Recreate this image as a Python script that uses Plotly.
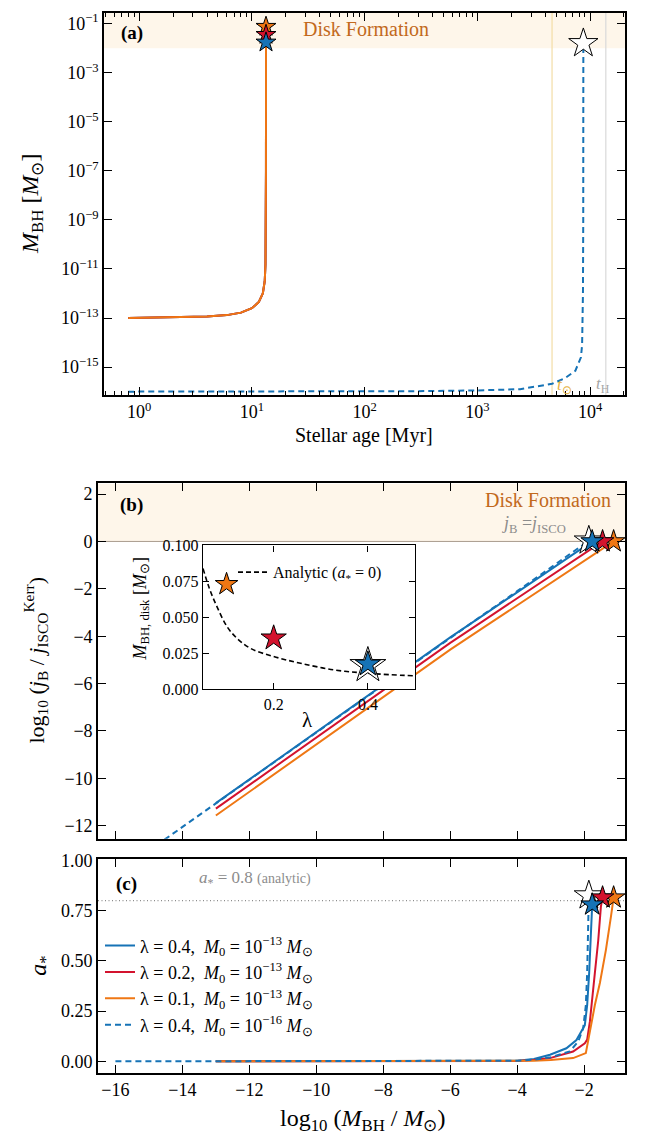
import plotly.graph_objects as go

W, H = 649, 1143
FONT = "Liberation Serif, Times New Roman, Times, serif"

# ---------------- data ----------------
# Panel (a): BH mass vs stellar age
age_m13 = [0.8, 2, 4, 6, 8, 10, 11.5, 12.5, 13.0, 13.2, 13.3, 13.33, 13.34]
logm_m13 = [-13.0, -12.98, -12.94, -12.88, -12.78, -12.6, -12.35, -12.0, -11.5, -10.8, -9.5, -7.0]
age_m16 = [0.8, 10, 100, 300, 1000, 2400, 4600, 6000, 7400, 8300, 8500, 8650, 8700, 8720]
logm_m16 = [-16.0, -16.0, -15.99, -15.98, -15.95, -15.9, -15.68, -15.45, -15.15, -14.6, -14.1, -12.0, -9.0, -1.8]
t_sun, t_hubble = 4600, 13800
disk_mass_lo = 0.01

# Disk-formation masses (end points)
lam = [0.4, 0.2, 0.1]
logm_disk = [-1.76, -1.45, -1.12]
logm_disk_m16 = -1.86

# Panel (b): log10 j_B / j_ISCO vs log10 M_BH
b_x_blue = [-13, -10, -8, -6, -5, -4, -3, -2, -1.76]
b_y_blue = [-11.05, -8.05, -6.05, -4.05, -3.1, -2.14, -1.18, -0.23, 0.0]
b_x_red = [-13, -10, -8, -6, -5, -4, -3, -2, -1.45]
b_y_red = [-11.28, -8.28, -6.28, -4.28, -3.34, -2.4, -1.46, -0.52, 0.0]
b_x_orange = [-13, -10, -8, -6, -5, -4, -3, -2, -1.12]
b_y_orange = [-11.57, -8.57, -6.57, -4.57, -3.63, -2.7, -1.76, -0.82, 0.0]
b_x_dash = [-16, -13, -10, -8, -6, -5, -4, -3, -2.2, -1.86]
b_y_dash = [-14.05, -11.05, -8.05, -6.05, -4.05, -3.08, -2.1, -1.12, -0.33, 0.03]
b_star_y = [0.0, 0.0, 0.0]
b_star_y_m16 = 0.03

# Panel (c): spin a* vs log10 M_BH
c_x_blue = [-13, -8, -5, -4, -3.5, -3.02, -2.53, -2.23, -1.98, -1.91, -1.85, -1.81, -1.76]
c_y_blue = [0, 0, 0.0005, 0.003, 0.012, 0.033, 0.065, 0.106, 0.18, 0.28, 0.44, 0.6, 0.78]
c_x_red = [-13, -8, -5, -4, -3.5, -3.02, -2.33, -1.98, -1.91, -1.83, -1.68, -1.58, -1.50, -1.45]
c_y_red = [0, 0, 0.0005, 0.002, 0.007, 0.016, 0.049, 0.09, 0.108, 0.196, 0.44, 0.6, 0.77, 0.815]
c_x_orange = [-13, -8, -5, -4, -3.5, -3.0, -2.33, -1.95, -1.83, -1.68, -1.53, -1.35, -1.2, -1.12]
c_y_orange = [0, 0, 0.0003, 0.0015, 0.003, 0.006, 0.016, 0.041, 0.147, 0.28, 0.39, 0.555, 0.72, 0.815]
c_x_dash = [-16, -8, -5, -4, -3.5, -3.0, -2.43, -2.18, -2.03, -1.95, -1.91, -1.88, -1.87, -1.86]
c_y_dash = [0, 0, 0.0005, 0.003, 0.008, 0.02, 0.049, 0.098, 0.163, 0.278, 0.44, 0.6, 0.77, 0.825]
c_star_a = [0.78, 0.815, 0.815]
c_star_a_m16 = 0.825
a_analytic = 0.8

# Inset: disk-formation mass vs lambda
ins_lam = [0.4, 0.2, 0.1]
ins_mdisk = [0.0174, 0.0355, 0.073]
ins_mdisk_m16 = 0.0165
an_lam = [0.05, 0.0636, 0.0796, 0.101, 0.122, 0.151, 0.2, 0.257, 0.328, 0.4, 0.5]
an_m = [0.084, 0.070, 0.0574, 0.0435, 0.0354, 0.0283, 0.0227, 0.018, 0.0134, 0.011, 0.0092]

labels = ["λ = 0.4,  <i>M</i><sub>0</sub> = 10<sup>−13</sup> <i>M</i><sub>⊙</sub>",
          "λ = 0.2,  <i>M</i><sub>0</sub> = 10<sup>−13</sup> <i>M</i><sub>⊙</sub>",
          "λ = 0.1,  <i>M</i><sub>0</sub> = 10<sup>−13</sup> <i>M</i><sub>⊙</sub>"]
label_dash = "λ = 0.4,  <i>M</i><sub>0</sub> = 10<sup>−16</sup> <i>M</i><sub>⊙</sub>"

BLUE, RED, ORANGE = "#1673B6", "#D3132E", "#EF7714"
colors = [BLUE, RED, ORANGE]
BAND = "#FEF6EA"
DF_COLOR = "#C2691C"

fig = go.Figure()

# ---------------- panel (a) ----------------
for i, c in enumerate(colors):
    ys = [10 ** v for v in logm_m13] + [10 ** logm_disk[i]]
    fig.add_trace(go.Scatter(x=age_m13, y=ys, mode="lines", line=dict(color=c, width=2),
                             xaxis="x", yaxis="y", showlegend=False))
fig.add_trace(go.Scatter(x=age_m16, y=[10 ** v for v in logm_m16], mode="lines",
                         line=dict(color=BLUE, width=2, dash="6px,4px"),
                         xaxis="x", yaxis="y", showlegend=False))
fig.add_trace(go.Scatter(x=[age_m16[-1]], y=[10 ** logm_m16[-1]], mode="markers",
                         marker=dict(symbol="star", size=22, color="white", line=dict(color="black", width=1)),
                         xaxis="x", yaxis="y", showlegend=False))
for i in [2, 1, 0]:
    fig.add_trace(go.Scatter(x=[age_m13[-1]], y=[10 ** logm_disk[i]], mode="markers",
                             marker=dict(symbol="star", size=15, color=colors[i], line=dict(color="black", width=1)),
                             xaxis="x", yaxis="y", showlegend=False))

# ---------------- panel (b) ----------------
for xs, ys, c in [(b_x_blue, b_y_blue, BLUE), (b_x_red, b_y_red, RED), (b_x_orange, b_y_orange, ORANGE)]:
    fig.add_trace(go.Scatter(x=xs, y=ys, mode="lines", line=dict(color=c, width=2),
                             xaxis="x2", yaxis="y2", showlegend=False))
fig.add_trace(go.Scatter(x=b_x_dash, y=b_y_dash, mode="lines", line=dict(color=BLUE, width=2, dash="6px,4px"),
                         xaxis="x2", yaxis="y2", showlegend=False))
fig.add_trace(go.Scatter(x=[logm_disk_m16], y=[b_star_y_m16], mode="markers",
                         marker=dict(symbol="star", size=22, color="white", line=dict(color="black", width=1)),
                         xaxis="x2", yaxis="y2", showlegend=False))
for i in [2, 1, 0]:
    fig.add_trace(go.Scatter(x=[logm_disk[i]], y=[b_star_y[i]], mode="markers",
                             marker=dict(symbol="star", size=17, color=colors[i], line=dict(color="black", width=1)),
                             xaxis="x2", yaxis="y2", showlegend=False))

# ---------------- panel (c) ----------------
for xs, ys, c, lab in [(c_x_blue, c_y_blue, BLUE, labels[0]), (c_x_red, c_y_red, RED, labels[1]),
                       (c_x_orange, c_y_orange, ORANGE, labels[2])]:
    fig.add_trace(go.Scatter(x=xs, y=ys, mode="lines", line=dict(color=c, width=2), name=lab,
                             xaxis="x3", yaxis="y3", showlegend=True, legend="legend"))
fig.add_trace(go.Scatter(x=c_x_dash, y=c_y_dash, mode="lines", line=dict(color=BLUE, width=2, dash="6px,4px"),
                         name=label_dash, xaxis="x3", yaxis="y3", showlegend=True, legend="legend"))
fig.add_trace(go.Scatter(x=[logm_disk_m16], y=[c_star_a_m16], mode="markers",
                         marker=dict(symbol="star", size=22, color="white", line=dict(color="black", width=1)),
                         xaxis="x3", yaxis="y3", showlegend=False))
for i in [2, 1, 0]:
    fig.add_trace(go.Scatter(x=[logm_disk[i]], y=[c_star_a[i]], mode="markers",
                             marker=dict(symbol="star", size=17, color=colors[i], line=dict(color="black", width=1)),
                             xaxis="x3", yaxis="y3", showlegend=False))

# ---------------- inset ----------------
fig.add_trace(go.Scatter(x=an_lam, y=an_m, mode="lines", line=dict(color="black", width=1.6, dash="5px,3px", shape="spline"),
                         name="Analytic (<i>a</i><sub>*</sub> = 0)", xaxis="x4", yaxis="y4",
                         showlegend=True, legend="legend2"))
fig.add_trace(go.Scatter(x=[ins_lam[0]], y=[ins_mdisk_m16], mode="markers",
                         marker=dict(symbol="star", size=27, color="white", line=dict(color="black", width=1)),
                         xaxis="x4", yaxis="y4", showlegend=False))
for i, sz in zip([2, 1, 0], [17, 19, 19]):
    fig.add_trace(go.Scatter(x=[ins_lam[i]], y=[ins_mdisk[i]], mode="markers",
                             marker=dict(symbol="star", size=sz, color=colors[i], line=dict(color="black", width=1)),
                             xaxis="x4", yaxis="y4", showlegend=False))

# ---------------- axes ----------------
def px_x(a, b):
    return [a / W, b / W]

def px_y(top, bottom):
    return [1 - bottom / H, 1 - top / H]

ax_common = dict(showline=True, linecolor="black", linewidth=1.6, mirror="allticks", ticks="inside",
                 ticklen=8, tickwidth=1.2, tickcolor="black", showgrid=False, zeroline=False,
                 tickfont=dict(family=FONT, size=18, color="black"))

minor_vals = []
for e in [-1, 0, 1, 2, 3, 4]:
    for m in range(2, 10):
        minor_vals.append(m * 10 ** e)

fig.update_layout(
    xaxis=dict(ax_common, domain=px_x(104, 625), anchor="y", type="log", range=[-0.312, 4.31],
               tickmode="array", tickvals=[1, 10, 100, 1000, 10000],
               ticktext=["10<sup>0</sup>", "10<sup>1</sup>", "10<sup>2</sup>", "10<sup>3</sup>", "10<sup>4</sup>"],
               minor=dict(tickmode="array", tickvals=minor_vals, ticks="inside", ticklen=4, tickwidth=1, tickcolor="black")),
    yaxis=dict(ax_common, domain=px_y(4, 392), anchor="x", type="log", range=[-16.13, -0.56],
               tickmode="array", tickvals=[10 ** (-k) for k in range(1, 16, 2)],
               ticktext=["10<sup>−%d</sup>" % k for k in range(1, 16, 2)]),
    xaxis2=dict(ax_common, domain=px_x(98, 625), anchor="y2", range=[-16.52, -0.78],
                tickmode="array", tickvals=list(range(-16, 0, 2)), showticklabels=False),
    yaxis2=dict(ax_common, domain=px_y(482, 843), anchor="x2", range=[-12.55, 2.45],
                tickmode="array", tickvals=list(range(-12, 3, 2))),
    xaxis3=dict(ax_common, domain=px_x(98, 625), anchor="y3", range=[-16.52, -0.78],
                tickmode="array", tickvals=list(range(-16, 0, 2))),
    yaxis3=dict(ax_common, domain=px_y(864, 1081), anchor="x3", range=[-0.058, 1.005],
                tickmode="array", tickvals=[0, 0.25, 0.5, 0.75, 1.0],
                ticktext=["0.00", "0.25", "0.50", "0.75", "1.00"]),
    xaxis4=dict(ax_common, domain=px_x(203, 415), anchor="y4", range=[0.05, 0.5],
                tickmode="array", tickvals=[0.2, 0.4], ticklen=6, linewidth=1.4,
                tickfont=dict(family=FONT, size=16, color="black")),
    yaxis4=dict(ax_common, domain=px_y(545, 691), anchor="x4", range=[0, 0.1],
                tickmode="array", tickvals=[0, 0.025, 0.05, 0.075, 0.1], ticklen=6, linewidth=1.4,
                ticktext=["0.000", "0.025", "0.050", "0.075", "0.100"],
                tickfont=dict(family=FONT, size=16, color="black")),
)

# ---------------- shapes ----------------
shapes = [
    dict(type="rect", xref="x domain", yref="y", x0=0, x1=1, y0=disk_mass_lo, y1=10 ** -0.56,
         fillcolor=BAND, line=dict(width=0), layer="below"),
    dict(type="line", xref="x", yref="y domain", x0=t_sun, x1=t_sun, y0=0, y1=1,
         line=dict(color="#F3DDA6", width=1.2), layer="below"),
    dict(type="line", xref="x", yref="y domain", x0=t_hubble, x1=t_hubble, y0=0, y1=1,
         line=dict(color="#D9D9D9", width=1.2), layer="below"),
    dict(type="rect", xref="x2 domain", yref="y2", x0=0, x1=1, y0=0, y1=2.45,
         fillcolor=BAND, line=dict(width=0), layer="below"),
    dict(type="line", xref="x2 domain", yref="y2", x0=0, x1=1, y0=0, y1=0,
         line=dict(color="#A99C8E", width=1), layer="below"),
    dict(type="line", xref="x3 domain", yref="y3", x0=0, x1=1, y0=a_analytic, y1=a_analytic,
         line=dict(color="#8C8C8C", width=1.1, dash="1px,2.5px"), layer="below"),
]
fig.update_layout(shapes=shapes)

# ---------------- annotations ----------------
def ann(text, x, y, size=18, color="black", angle=0, xanchor="center", yanchor="middle"):
    return dict(text=text, x=x / W, y=1 - y / H, xref="paper", yref="paper", showarrow=False,
                font=dict(family=FONT, size=size, color=color), textangle=angle,
                xanchor=xanchor, yanchor=yanchor)

anns = [
    ann("<b>(a)</b>", 132, 24, 19),
    ann("Disk Formation", 366, 20, 20, DF_COLOR),
    ann("<i>t</i><sub>⊙</sub>", 564, 383, 17, "#E6B13E"),
    ann("<i>t</i><sub>H</sub>", 603, 382, 17, "#A6A6A6"),
    ann("<i>M</i><sub>BH</sub> [<i>M</i><sub>⊙</sub>]", 32, 198, 24, angle=-90),
    ann("Stellar age [Myr]", 364, 433, 20),
    ann("<b>(b)</b>", 131, 504, 19),
    ann("Disk Formation", 548, 499, 20, DF_COLOR),
    ann("<i>j</i><sub>B</sub> =<i>j</i><sub>ISCO</sub>", 534, 524, 18, "#8C8C8C"),
    ann("log<sub>10</sub> (<i>j</i><sub>B</sub> / <i>j</i><sub>ISCO</sub><sup>Kerr</sup>)", 36, 662, 22, angle=-90),
    ann("<i>M</i><sub>BH, disk</sub> [<i>M</i><sub>⊙</sub>]", 141, 610, 18, angle=-90),
    ann("λ", 307, 722, 21),
    ann("<b>(c)</b>", 126, 889, 19),
    ann("<i>a</i><sub>*</sub> = 0.8 <span style='font-size:14px'>(analytic)</span>", 255, 884, 17, "#8C8C8C"),
    ann("<i>a</i><sub>*</sub>", 40, 972, 24, angle=-90),
    ann("log<sub>10</sub> (<i>M</i><sub>BH</sub> / <i>M</i><sub>⊙</sub>)", 362, 1129, 24),
]
fig.update_layout(annotations=anns)

fig.update_layout(
    width=W, height=H, margin=dict(l=0, r=0, t=0, b=0),
    paper_bgcolor="white", plot_bgcolor="white",
    font=dict(family=FONT, size=16, color="black"),
    legend=dict(x=100 / W, y=1 - 933 / H, xanchor="left", yanchor="top", bgcolor="rgba(0,0,0,0)",
                font=dict(family=FONT, size=18, color="black"), tracegroupgap=0, itemwidth=30),
    legend2=dict(x=233 / W, y=1 - 555 / H, xanchor="left", yanchor="top", bgcolor="rgba(0,0,0,0)",
                 font=dict(family=FONT, size=16, color="black"), itemwidth=30),
)

fig.write_html("out.html")
